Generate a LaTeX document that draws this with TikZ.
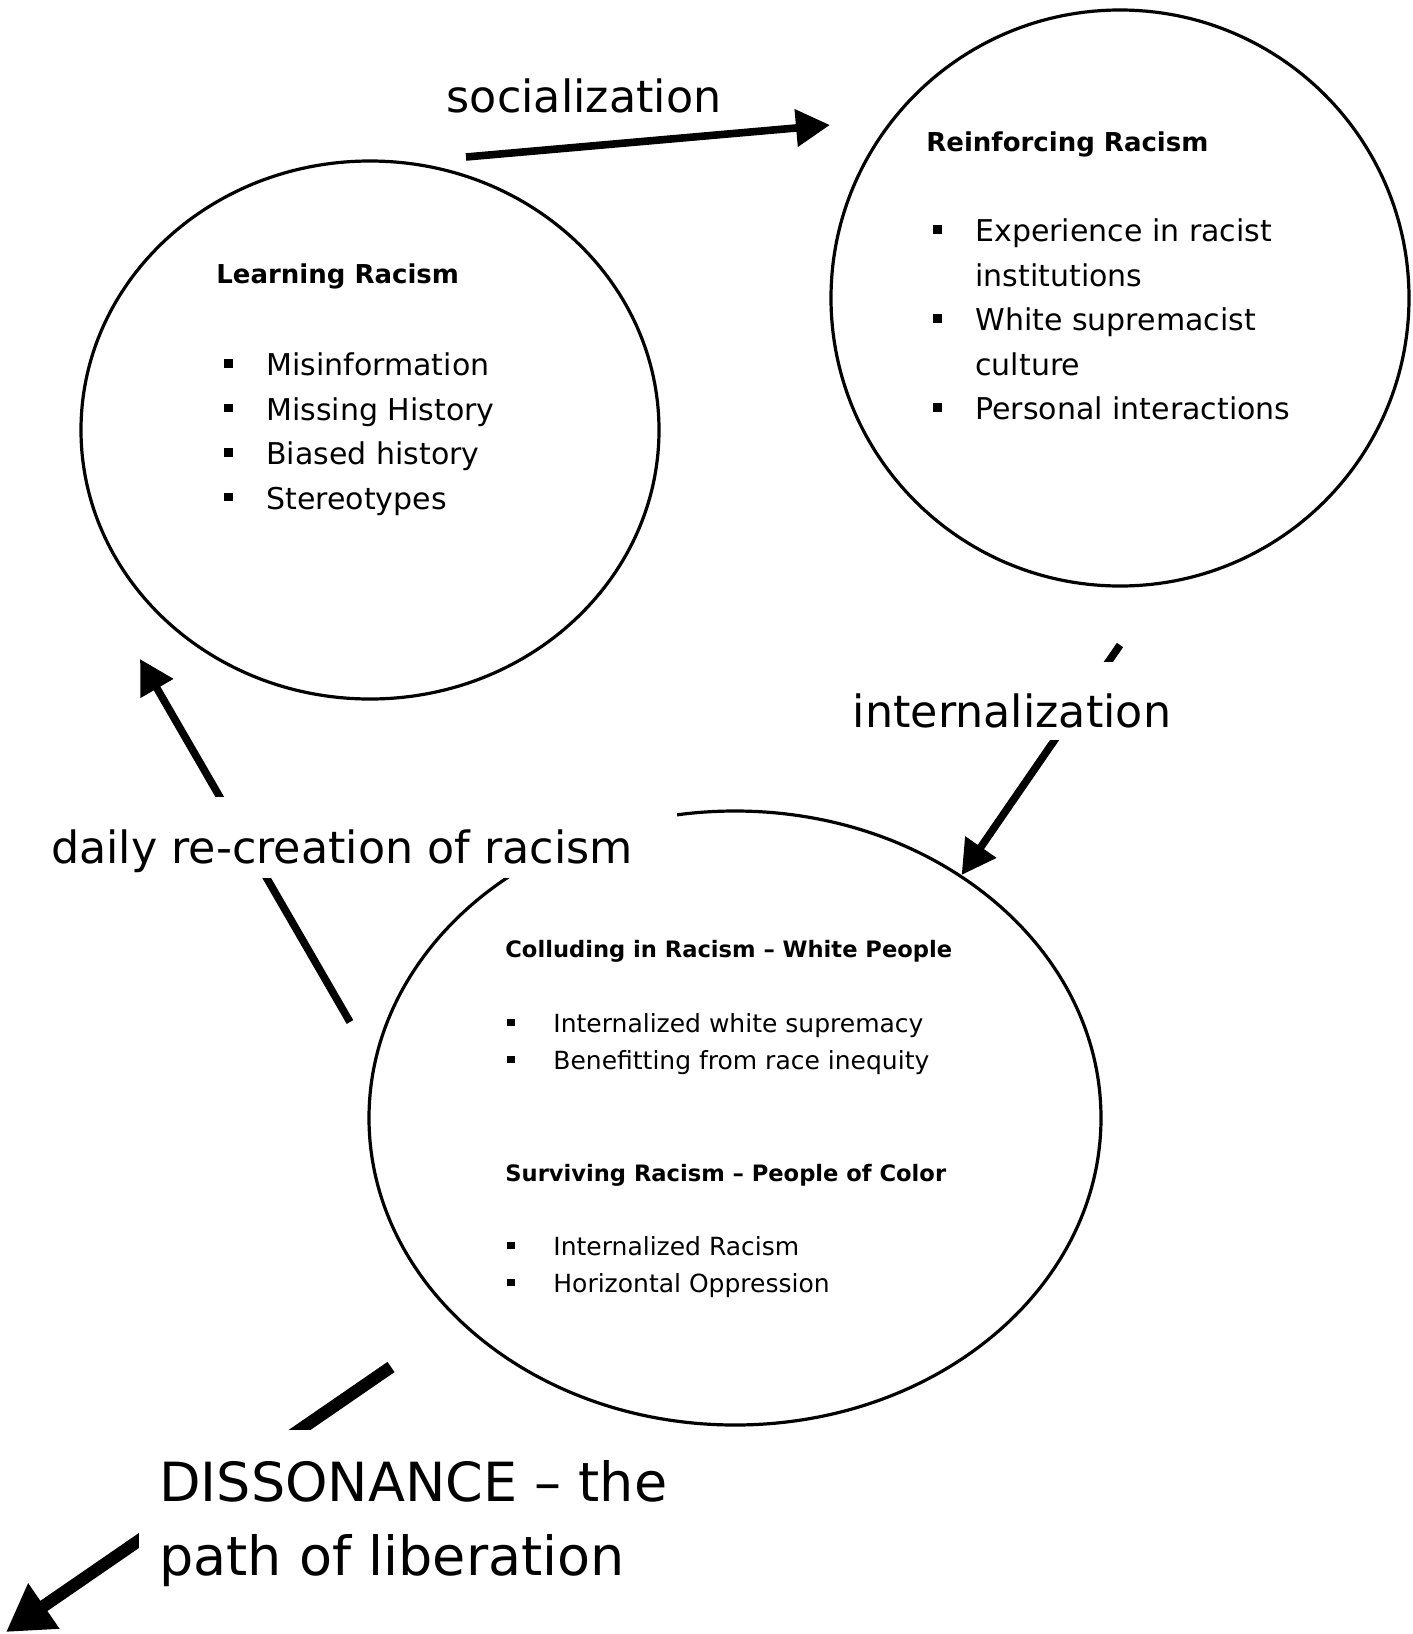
\documentclass[tikz,border=0pt]{standalone}
\usepackage{fontspec}
\setmainfont{DejaVu Sans}
\usetikzlibrary{arrows.meta,shapes.geometric}

\newcommand{\sqbul}{\makebox[21pt][l]{\rule[4pt]{4.2pt}{4.2pt}}}
\newcommand{\sqgap}{\hspace*{21pt}}
\newcommand{\smbul}{\makebox[23pt][l]{\rule[3pt]{3.6pt}{3.6pt}}}

\begin{document}
\begin{tikzpicture}[x=0.5pt,y=-0.5pt,
  ring/.style={draw,ellipse,line width=1.6pt,inner sep=0pt},
  flow/.style={line width=3.8pt,-{Triangle[length=17pt,width=18pt]}},
  tag/.style={font=\fontsize{22.2}{26}\selectfont,inner sep=0pt,fill=white},
  head/.style={font=\bfseries\fontsize{13}{16}\selectfont,anchor=base west,inner sep=0pt},
  items/.style={align=left,anchor=north west,inner sep=0pt,font=\fontsize{15}{22.25}\selectfont},
  smallhead/.style={head,font=\bfseries\fontsize{11.3}{14}\selectfont},
  smallitems/.style={items,font=\fontsize{12.5}{18.5}\selectfont}]

  \useasboundingbox (0,0) rectangle (1413,1634);

  \node[ring,minimum width=289pt,minimum height=269pt] (learn) at (370,430) {};
  \node[ring,minimum width=289pt,minimum height=288pt] (reinf) at (1120,298) {};
  \node[ring,minimum width=366pt,minimum height=307pt] (collude) at (735,1118) {};

  \node[head] (learn-t) at (216,283) {Learning Racism};
  \node[items] (learn-l) at (224,344) {\sqbul Misinformation\strut\\
    \sqbul Missing History\strut\\
    \sqbul Biased history\strut\\
    \sqbul Stereotypes\strut};

  \node[head] (reinf-t) at (926,151) {Reinforcing Racism};
  \node[items] (reinf-l) at (933,210) {\sqbul Experience in racist\strut\\
    \sqgap institutions\strut\\
    \sqbul White supremacist\strut\\
    \sqgap culture\strut\\
    \sqbul Personal interactions\strut};

  \node[smallhead] (coll-t) at (505,957) {Colluding in Racism -- White People};
  \node[smallitems] (coll-l) at (507,1006) {\smbul Internalized white supremacy\strut\\
    \smbul Benefitting from race inequity\strut};
  \node[smallhead] (surv-t) at (505,1181) {Surviving Racism -- People of Color};
  \node[smallitems] (surv-l) at (507,1229) {\smbul Internalized Racism\strut\\
    \smbul Horizontal Oppression\strut};

  \coordinate (soc-a) at (466,157);
  \coordinate (soc-b) at (830,125);
  \coordinate (int-a) at (1120,645);
  \coordinate (day-a) at (350,1022);
  \coordinate (day-b) at (140,659);
  \coordinate (dis-a) at (391,1367);
  \coordinate (dis-b) at (6,1632);

  \draw[flow] (soc-a) -- (soc-b);
  \draw[flow] (int-a) -- (collude.47);
  \draw[flow] (day-a) -- (day-b);
  \draw[line width=6.2pt,-{Triangle[length=23pt,width=26pt]}] (dis-a) -- (dis-b);

  \node[tag,anchor=base] (soc) at (584,112) {socialization};
  \node[tag,anchor=base,text height=32.5pt,text depth=6.5pt] (int) at (1012,727) {internalization};
  \node[tag,anchor=base,text height=33pt,text depth=7.5pt,minimum width=335pt] (day) at (342,863) {daily re-creation of racism};
  \node[tag,font=\fontsize{27}{37}\selectfont,align=left,anchor=north west,inner xsep=10pt,inner ysep=15pt] (dis) at (139,1430) {DISSONANCE -- the\\path of liberation};
\end{tikzpicture}
\end{document}
